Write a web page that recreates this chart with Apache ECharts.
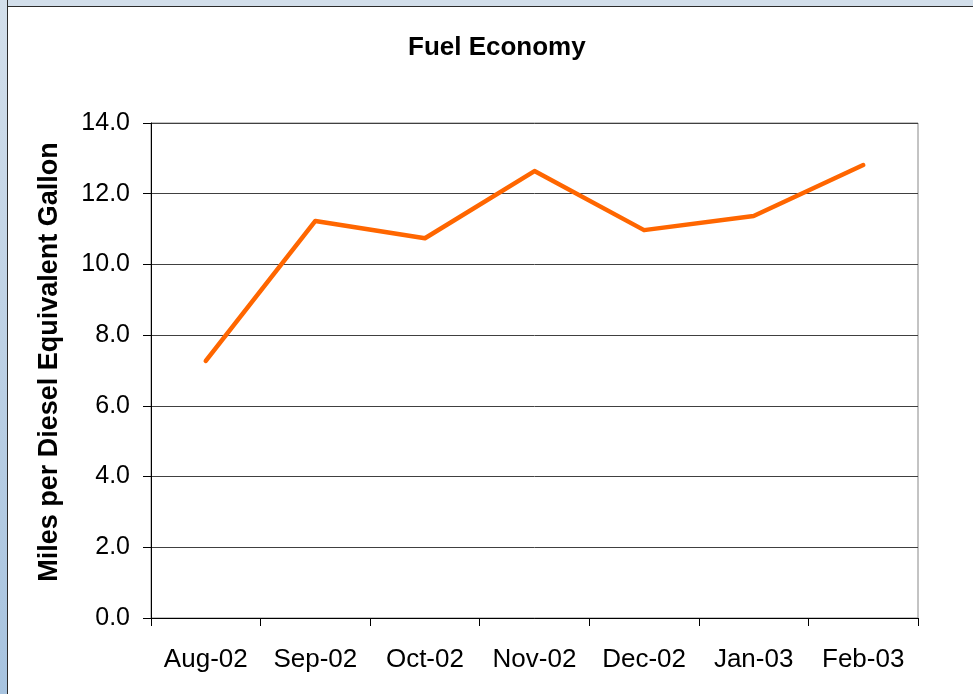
<!DOCTYPE html>
<html>
<head>
<meta charset="utf-8">
<script src="https://cdn.jsdelivr.net/npm/echarts@6/dist/echarts.min.js"></script>
<style>
  html, body { margin: 0; padding: 0; width: 973px; height: 694px; overflow: hidden; background: #ffffff; }
  #topStrip { position: absolute; left: 0; top: 0; width: 973px; height: 6px; background: #d3dfeb; border-bottom: 1px solid #2b2b2b; }
  #leftStrip { position: absolute; left: 0; top: 0; width: 7px; height: 694px; background: linear-gradient(#d3dfeb, #a7c3df); border-right: 1px solid #2b2b2b; }
  #chart { position: absolute; left: 0; top: 0; width: 973px; height: 694px; }
</style>
</head>
<body>
<div id="topStrip"></div>
<div id="leftStrip"></div>
<div id="chart"></div>
<script>
const categories = ['Aug-02', 'Sep-02', 'Oct-02', 'Nov-02', 'Dec-02', 'Jan-03', 'Feb-03'];
const fuelEconomy = [7.27, 11.23, 10.74, 12.64, 10.97, 11.37, 12.81];
const titleText = 'Fuel Economy';
const yAxisTitle = 'Miles per Diesel Equivalent Gallon';
const yMin = 0, yMax = 14, yStep = 2;

const FONT = '"Liberation Sans", Arial, sans-serif';
const chart = echarts.init(document.getElementById('chart'), null, { renderer: 'canvas' });
chart.setOption({
  backgroundColor: 'transparent',
  animation: false,
  title: {
    text: titleText,
    left: 408, top: 35, padding: 0,
    textStyle: { fontFamily: FONT, fontWeight: 'bold', fontSize: 26, color: '#000' }
  },
  grid: {
    left: 151, top: 123, width: 767, height: 495,
    show: true, borderColor: '#888', borderWidth: 1, backgroundColor: 'transparent'
  },
  xAxis: {
    type: 'category',
    data: categories,
    boundaryGap: true,
    axisLine: { lineStyle: { color: '#000', width: 1 } },
    axisTick: { show: true, length: 8, lineStyle: { color: '#000' } },
    axisLabel: { margin: 29, fontFamily: FONT, fontSize: 26, color: '#000' },
    splitLine: { show: false }
  },
  yAxis: {
    type: 'value',
    min: yMin, max: yMax, interval: yStep,
    name: yAxisTitle,
    nameLocation: 'middle',
    nameRotate: 90,
    nameGap: 88,
    nameTextStyle: { fontFamily: FONT, fontWeight: 'bold', fontSize: 27, color: '#000', padding: [0, 0, 0, 17] },
    axisLine: { show: true, lineStyle: { color: '#000', width: 1 } },
    axisTick: { show: true, length: 8, lineStyle: { color: '#000' } },
    axisLabel: { margin: 21, fontFamily: FONT, fontSize: 25, color: '#000', formatter: v => v.toFixed(1) },
    splitLine: { show: true, lineStyle: { color: '#404040', width: 1 } }
  },
  series: [{
    type: 'line',
    data: fuelEconomy,
    showSymbol: false,
    symbol: 'none',
    lineStyle: { color: '#ff6600', width: 4.5, cap: 'round', join: 'round' },
    itemStyle: { color: '#ff6600' }
  }]
});
</script>
</body>
</html>
